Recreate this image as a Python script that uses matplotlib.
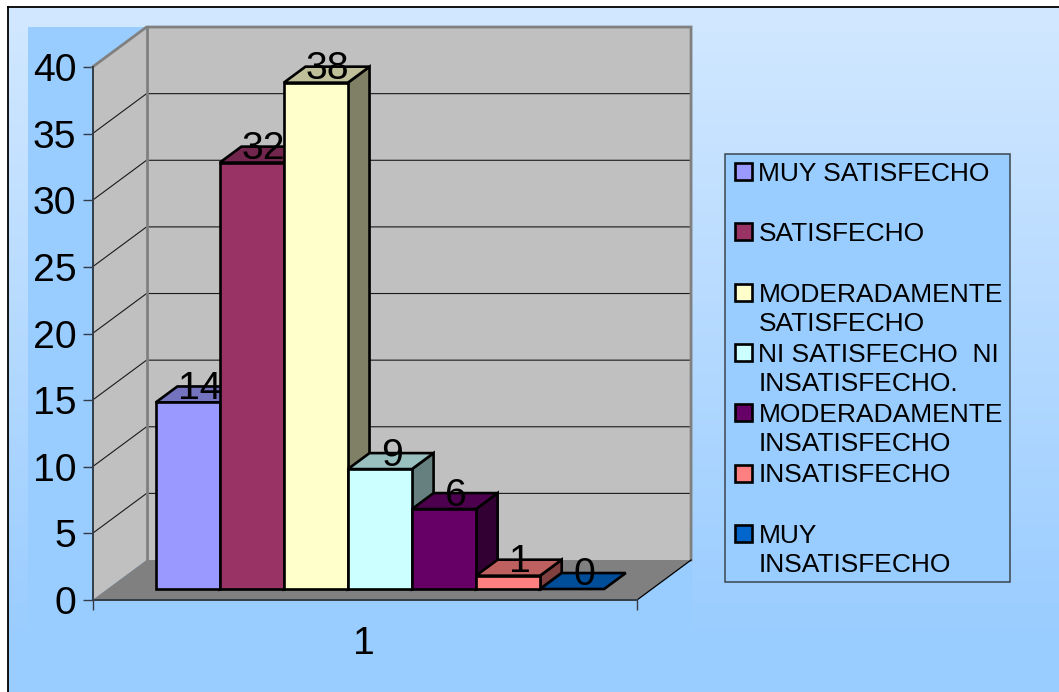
import numpy as np
import matplotlib
matplotlib.use("Agg")
import matplotlib.pyplot as plt
from matplotlib.colors import LinearSegmentedColormap, to_rgb
from matplotlib.patches import Polygon, Rectangle

plt.rcParams["font.family"] = ["Liberation Sans", "DejaVu Sans"]

# Survey responses
categories = [
    "MUY SATISFECHO",
    "SATISFECHO",
    "MODERADAMENTE\nSATISFECHO",
    "NI SATISFECHO  NI\nINSATISFECHO.",
    "MODERADAMENTE\nINSATISFECHO",
    "INSATISFECHO",
    "MUY\nINSATISFECHO",
]
values = [14, 32, 38, 9, 6, 1, 0]
colors = ["#9999FF", "#993366", "#FFFFCC", "#CCFFFF", "#660066", "#FF8080", "#0066CC"]
y_ticks = [0, 5, 10, 15, 20, 25, 30, 35, 40]
group_label = "1"

W, H = 1059, 692
fig = plt.figure(figsize=(W / 100, H / 100), dpi=100, facecolor="white")

# Full-figure layer in pixel units for the background and the legend
bg = fig.add_axes([0, 0, 1, 1], zorder=0)
bg.axis("off")
grad = LinearSegmentedColormap.from_list("bg", ["#D2E8FF", "#99CCFF"])
bg.add_patch(Rectangle((8, 7), W, H, facecolor="#99CCFF", edgecolor="none", zorder=0))
bg.imshow(np.linspace(0, 1, 256).reshape(-1, 1), cmap=grad, aspect="auto",
          extent=(8, W, 650, 7), zorder=0.5)
bg.set_xlim(0, W)
bg.set_ylim(H, 0)
bg.add_patch(Rectangle((28, 27), 664, 630, facecolor="#99CCFF", edgecolor="none", zorder=1))
bg.plot([8, 8], [H, 7], color="black", lw=1.3, zorder=2, solid_capstyle="projecting")
bg.plot([8, W], [7, 7], color="black", lw=1.3, zorder=2, solid_capstyle="projecting")

# Front plane of the 3D box: one x unit is one bar width
BAR_GAP = 0.755
X_MAX = 8.5
Y_MAX = 40
DEPTH_X = 54 / 64
DEPTH_Y = 3.0
BAR_Z0, BAR_Z1 = 0.275, 0.675

ax = fig.add_axes([92.5 / W, (H - 600) / H, 544.5 / W, 533 / H], zorder=1)
ax.patch.set_visible(False)
ax.set_xlim(0, X_MAX)
ax.set_ylim(0, Y_MAX)


def project(x, y, z):
    """Shift a point of the front plane back along the depth axis."""
    return (x + z * DEPTH_X, y + z * DEPTH_Y)


def face(points, color, zorder, edge="none", lw=0.0):
    ax.add_patch(Polygon(points, closed=True, facecolor=color, edgecolor=edge,
                         linewidth=lw, clip_on=False, zorder=zorder, joinstyle="miter"))


def shade(color, factor):
    return tuple(c * factor for c in to_rgb(color))


WALL_GREY = "#C0C0C0"
FRAME_GREY = "#808080"

# Side wall, back wall and floor
face([project(0, 0, 0), project(0, 0, 1), project(0, Y_MAX, 1), project(0, Y_MAX, 0)], WALL_GREY, 1)
face([project(0, 0, 1), project(X_MAX, 0, 1), project(X_MAX, Y_MAX, 1), project(0, Y_MAX, 1)], WALL_GREY, 1)
face([project(0, 0, 0), project(X_MAX, 0, 0), project(X_MAX, 0, 1), project(0, 0, 1)], FRAME_GREY, 1.5)

# Gridlines run along the side wall and then across the back wall
for tick in y_ticks[1:-1]:
    p0, p1, p2 = project(0, tick, 0), project(0, tick, 1), project(X_MAX, tick, 1)
    ax.plot([p0[0], p1[0], p2[0]], [p0[1], p1[1], p2[1]], color="#1a1a1a", lw=0.8,
            clip_on=False, zorder=2)

# Wall outlines
outline = [project(0, Y_MAX, 0), project(0, Y_MAX, 1), project(X_MAX, Y_MAX, 1), project(X_MAX, 0, 1)]
ax.plot(*zip(*outline), color=FRAME_GREY, lw=2.0, clip_on=False, zorder=3, solid_joinstyle="miter")
back_edge = [project(0, Y_MAX, 1), project(0, 0, 1)]
ax.plot(*zip(*back_edge), color=FRAME_GREY, lw=2.0, clip_on=False, zorder=3)
floor_edge = [project(X_MAX, 0, 0), project(X_MAX, 0, 1)]
ax.plot(*zip(*floor_edge), color="black", lw=0.9, clip_on=False, zorder=3)

# Bars: each one has a side face, a top face and a front face
for i, (val, col) in enumerate(zip(values, colors)):
    x0, x1 = BAR_GAP + i, BAR_GAP + i + 1
    base = 4 + i * 0.01
    kw = dict(edge="black", lw=1.9)
    if val > 0:
        face([project(x1, 0, BAR_Z0), project(x1, 0, BAR_Z1), project(x1, val, BAR_Z1), project(x1, val, BAR_Z0)],
             shade(col, 0.5), base, **kw)
    face([project(x0, val, BAR_Z0), project(x1, val, BAR_Z0), project(x1, val, BAR_Z1), project(x0, val, BAR_Z1)],
         shade(col, 0.75), base, **kw)
    if val > 0:
        face([project(x0, 0, BAR_Z0), project(x1, 0, BAR_Z0), project(x1, val, BAR_Z0), project(x0, val, BAR_Z0)],
             col, base + 0.001, **kw)

# Value labels float above the middle of each bar top
LABEL_PT = 28.2
for i, val in enumerate(values):
    cx, cy = project(BAR_GAP + i + 0.5, val, (BAR_Z0 + BAR_Z1) / 2)
    ax.annotate(str(val), xy=(cx, cy), xytext=(0.7, 4), textcoords="offset points",
                ha="center", va="center", fontsize=LABEL_PT, color="black",
                annotation_clip=False, zorder=20)

# Axes
AXIS_COLOR = "#333c46"
for side in ("top", "right"):
    ax.spines[side].set_visible(False)
for side in ("left", "bottom"):
    ax.spines[side].set_color(AXIS_COLOR)
    ax.spines[side].set_linewidth(1.4)
    ax.spines[side].set_zorder(6)
ax.set_yticks(y_ticks)
ax.tick_params(axis="y", length=7.2, width=1.0, color=AXIS_COLOR, pad=4.5, labelsize=LABEL_PT)
ax.set_xticks([0, X_MAX])
ax.set_xticklabels(["", ""])
ax.tick_params(axis="x", which="major", length=7.2, width=1.0, color=AXIS_COLOR)
ax.set_xticks([X_MAX / 2 - 0.02], minor=True)
ax.set_xticklabels([group_label], minor=True)
ax.tick_params(axis="x", which="minor", length=0, pad=18.5, labelsize=LABEL_PT)

# Legend, laid out row by row
top_layer = fig.add_axes([0, 0, 1, 1], zorder=2)
top_layer.set_xlim(0, W)
top_layer.set_ylim(H, 0)
top_layer.axis("off")
top_layer.add_patch(Rectangle((725, 154), 285, 428, facecolor="#99CCFF", edgecolor="#3c4650", lw=1.1))
ROW_TOP, ROW_PITCH = 163, 60.3
for i, (name, col) in enumerate(zip(categories, colors)):
    y = ROW_TOP + i * ROW_PITCH
    top_layer.add_patch(Rectangle((735, y), 17, 17, facecolor=col, edgecolor="black", lw=1.9))
    top_layer.text(758.5, y - 1, name, fontsize=19.0, va="top", ha="left", linespacing=1.27, color="black")

fig.savefig("out.png", dpi=100, facecolor="white")
